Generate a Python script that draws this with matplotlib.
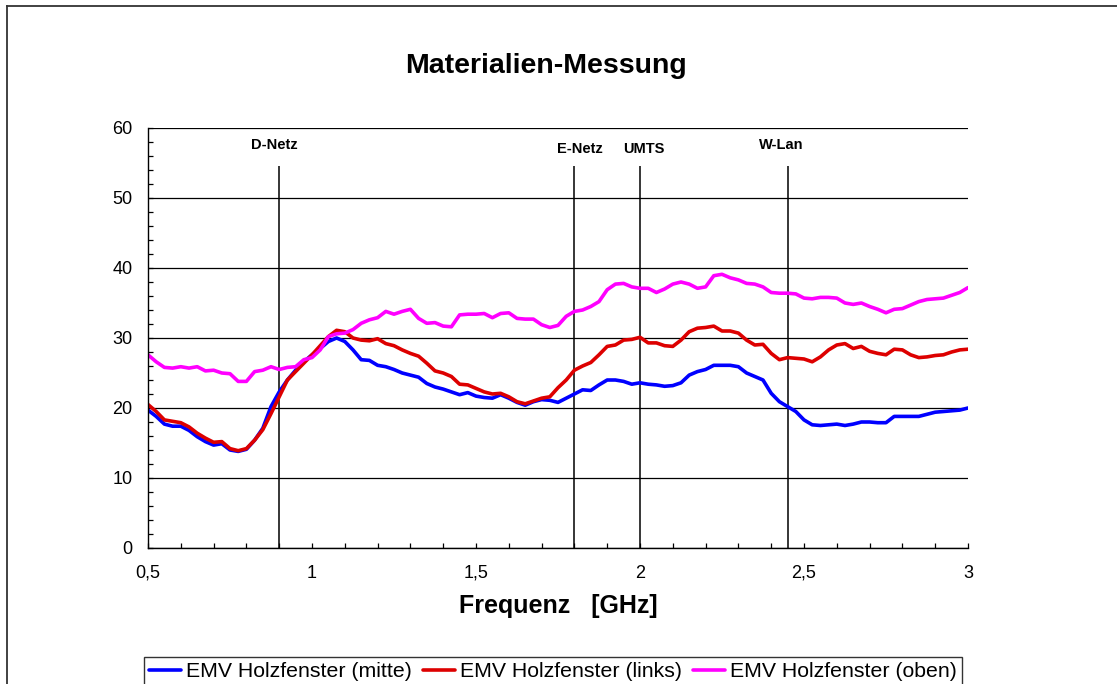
import numpy as np
import matplotlib
matplotlib.use("Agg")
from matplotlib import pyplot as plt
from matplotlib.lines import Line2D
from matplotlib.ticker import MultipleLocator, FixedLocator

plt.rcParams['font.family'] = ['Liberation Sans', 'DejaVu Sans']

# frequency samples in GHz (0.5 .. 3.0, step 0.025)
freq = np.linspace(0.5, 3.0, 101)

mitte = [19.7, 18.8, 17.7, 17.4, 17.4, 16.8, 15.9, 15.2, 14.7, 14.9,
         14.0, 13.8, 14.1, 15.4, 17.1, 20.2, 22.3, 24.0, 25.4, 26.6,
         27.6, 28.5, 29.5, 30.0, 29.5, 28.3, 26.9, 26.8, 26.1, 25.9,
         25.5, 25.0, 24.7, 24.4, 23.5, 23.0, 22.7, 22.3, 21.9, 22.2,
         21.7, 21.5, 21.4, 21.9, 21.4, 20.8, 20.4, 20.9, 21.2, 21.1,
         20.8,
         21.4, 22.0, 22.6, 22.5, 23.3, 24.0, 24.0, 23.8, 23.4, 23.6,
         23.4, 23.3, 23.1, 23.2, 23.6, 24.7, 25.2, 25.5, 26.1, 26.1,
         26.1, 25.9, 25.0, 24.5, 24.0, 22.1, 20.9, 20.2, 19.5, 18.3,
         17.6, 17.5, 17.6, 17.7, 17.5, 17.7, 18.0, 18.0, 17.9, 17.9,
         18.8, 18.8, 18.8, 18.8, 19.1, 19.4, 19.5, 19.6, 19.7, 20.0]

links = [20.5, 19.5, 18.3, 18.1, 17.9, 17.3, 16.4, 15.7, 15.1, 15.2,
         14.2, 13.9, 14.2, 15.4, 16.9, 19.2, 21.6, 24.0, 25.2, 26.4,
         27.6, 28.9, 30.2, 31.1, 30.9, 30.0, 29.7, 29.6, 29.9, 29.2,
         28.9, 28.3, 27.8, 27.4, 26.4, 25.3, 25.0, 24.5, 23.4, 23.3,
         22.8, 22.3, 22.0, 22.1, 21.6, 20.9, 20.6, 21.0, 21.4, 21.6,
         22.9,
         24.0, 25.4, 26.0, 26.5, 27.6, 28.8, 29.0, 29.7, 29.8, 30.1,
         29.3, 29.3, 28.9, 28.8, 29.7, 30.9, 31.4, 31.5, 31.7, 31.0,
         31.0, 30.7, 29.7, 29.0, 29.1, 27.8, 26.9, 27.2, 27.1, 27.0,
         26.6, 27.3, 28.3, 29.0, 29.2, 28.5, 28.8, 28.1, 27.8, 27.6,
         28.4, 28.3, 27.6, 27.2, 27.3, 27.5, 27.6, 28.0, 28.3, 28.4]

oben = [27.6, 26.6, 25.8, 25.7, 25.9, 25.7, 25.9, 25.3, 25.4, 25.0,
        24.9, 23.8, 23.8, 25.2, 25.4, 25.9, 25.5, 25.8, 25.9, 26.9,
        27.2, 28.3, 30.2, 30.6, 30.7, 31.2, 32.1, 32.6, 32.9, 33.8,
        33.4, 33.8, 34.1, 32.8, 32.1, 32.2, 31.7, 31.6, 33.3, 33.4,
        33.4, 33.5, 32.9, 33.5, 33.6, 32.8, 32.7, 32.7, 31.9, 31.5,
        31.8,
        33.1, 33.8, 34.0, 34.5, 35.2, 36.9, 37.7, 37.8, 37.3, 37.1,
        37.1, 36.5, 37.0, 37.7, 38.0, 37.7, 37.1, 37.3, 38.9, 39.1,
        38.6, 38.3, 37.8, 37.7, 37.3, 36.5, 36.4, 36.4, 36.3, 35.7,
        35.6, 35.8, 35.8, 35.7, 35.0, 34.8, 35.0, 34.5, 34.1, 33.6,
        34.1, 34.2, 34.7, 35.2, 35.5, 35.6, 35.7, 36.1, 36.5, 37.2]

series_names = ["EMV Holzfenster (mitte)", "EMV Holzfenster (links)", "EMV Holzfenster (oben)"]
series_colors = ["#0000FF", "#DD0000", "#FF00FF"]

# frequency bands
band_names = ["D-Netz", "E-Netz", "UMTS", "W-Lan"]
band_freq = [0.9, 1.8, 2.0, 2.45]
band_label_x = [0.886, 1.817, 2.012, 2.43]
band_label_y = [57.6, 57.0, 57.0, 57.6]
band_top = 54.6

fig = plt.figure(figsize=(11.17, 6.84), dpi=100)
ax = fig.add_axes([148 / 1117, 136 / 684, 820 / 1117, 420 / 684])

for ys, name, col in zip([mitte, links, oben], series_names, series_colors):
    ax.plot(freq, ys, color=col, lw=2.6, label=name,
            solid_joinstyle='round', solid_capstyle='round')

ax.vlines(band_freq, 0, band_top, color='black', lw=1.1, zorder=1)
for name, bx, by in zip(band_names, band_label_x, band_label_y):
    ax.text(bx, by, name, ha='center', va='center', fontsize=10.5, fontweight='bold')

ax.set_xlim(0.5, 3.0)
ax.set_ylim(0, 60)
ax.yaxis.set_major_locator(MultipleLocator(10))
ax.yaxis.set_minor_locator(MultipleLocator(2))
ax.xaxis.set_major_locator(FixedLocator([0.5, 1.0, 1.5, 2.0, 2.5, 3.0]))
ax.xaxis.set_minor_locator(MultipleLocator(0.1))
ax.set_xticklabels(["0,5", "1", "1,5", "2", "2,5", "3"])
ax.grid(axis='y', which='major', color='black', lw=0.9)
ax.set_axisbelow(True)
ax.tick_params(which='both', direction='in', length=3.5, width=0.9, labelsize=13)
ax.tick_params(axis='y', pad=11)
ax.tick_params(axis='x', pad=12)
for s in ['top', 'right']:
    ax.spines[s].set_visible(False)
for s in ['left', 'bottom']:
    ax.spines[s].set_linewidth(1.0)

ax.set_xlabel("Frequenz   [GHz]", fontsize=18, fontweight='bold', labelpad=9)
fig.text(546 / 1117, 1 - 66 / 684, "Materialien-Messung", ha='center', va='center',
         fontsize=20.5, fontweight='bold')

# outer chart frame
fig.add_artist(Line2D([7 / 1117, 1.0], [1 - 6 / 684, 1 - 6 / 684], color='#333333', lw=1.3))
fig.add_artist(Line2D([7 / 1117, 7 / 1117], [0, 1 - 6 / 684], color='#333333', lw=1.3))

leg = fig.legend(loc='upper left', bbox_to_anchor=(144 / 1117, 1 - 657 / 684), ncol=3,
                 fontsize=15.3, frameon=True, fancybox=False, edgecolor='black',
                 handlelength=1.5, handletextpad=0.25, columnspacing=0.5,
                 borderpad=0.25, borderaxespad=0)
leg.get_frame().set_linewidth(1.0)

fig.savefig("out.png", dpi=100)
